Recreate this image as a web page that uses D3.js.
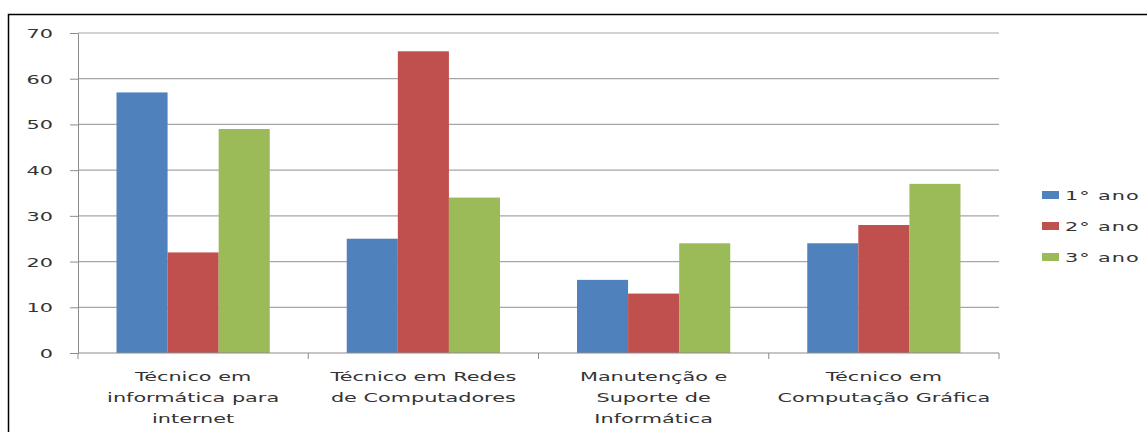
<!DOCTYPE html>
<html><head><meta charset="utf-8">
<script src="https://cdn.jsdelivr.net/npm/d3@7"></script>
<style>body{margin:0;background:#fff;} svg{display:block;}</style>
</head><body>
<svg id="c" width="1147" height="432"></svg>
<script>
const categories = [
  ["Técnico em", "informática para", "internet"],
  ["Técnico em Redes", "de Computadores"],
  ["Manutenção e", "Suporte de", "Informática"],
  ["Técnico em", "Computação Gráfica"]
];
const seriesNames = ["1° ano", "2° ano", "3° ano"];
const ano1 = [57, 25, 16, 24];
const ano2 = [22, 66, 13, 28];
const ano3 = [49, 34, 24, 37];
const yTicks = [0, 10, 20, 30, 40, 50, 60, 70];
const colors = ["#4F81BD", "#C0504D", "#9BBB59"];

(function () {
const series = [ano1, ano2, ano3];
const svg = d3.select("#c");
const SX = 1.6;
const font = "DejaVu Sans, Verdana, sans-serif";
const fs = 13;
const tc = "#333";

svg.append("rect").attr("x", 8.5).attr("y", 14.5).attr("width", 1160).attr("height", 440)
  .attr("fill", "none").attr("stroke", "#000").attr("stroke-width", 1.5);

const pl = 78, pr = 999, pt = 33, pb = 353;
const y = d3.scaleLinear().domain([0, 70]).range([pb, pt]);
const x0 = d3.scaleBand().domain(d3.range(categories.length)).range([pl, pr]).paddingInner(0).paddingOuter(0);
const x1 = d3.scaleBand().domain(d3.range(3)).range([38.5, x0.bandwidth() - 38.5]);

// gridlines
svg.append("g").selectAll("line").data(yTicks.filter(d => d > 0)).join("line")
  .attr("x1", pl).attr("x2", pr).attr("y1", d => y(d)).attr("y2", d => y(d))
  .attr("stroke", "#a6a6a6").attr("stroke-width", 1.2);

// bars
const g = svg.append("g");
categories.forEach((c, i) => {
  series.forEach((s, j) => {
    g.append("rect")
      .attr("x", x0(i) + x1(j)).attr("width", x1.bandwidth())
      .attr("y", y(s[i])).attr("height", y(0) - y(s[i]))
      .attr("fill", colors[j]);
  });
});

// y axis
const yAxis = svg.append("g").attr("transform", `translate(${pl},0)`)
  .call(d3.axisLeft(y).tickValues(yTicks).tickSize(8).tickPadding(0).tickSizeOuter(0));
yAxis.select(".domain").attr("stroke", "#8c8c8c");
yAxis.selectAll(".tick line").attr("stroke", "#8c8c8c");
yAxis.selectAll(".tick text").attr("x", null).attr("dy", "0.35em")
  .attr("text-anchor", "end")
  .attr("transform", `translate(-25,0) scale(${SX},1)`)
  .attr("font-family", font).attr("font-size", fs).attr("fill", tc);

// x axis baseline and ticks
svg.append("line").attr("x1", pl).attr("x2", pr).attr("y1", pb).attr("y2", pb)
  .attr("stroke", "#8c8c8c").attr("stroke-width", 1.2);
svg.append("g").selectAll("line").data(d3.range(categories.length + 1)).join("line")
  .attr("x1", d => pl + d * x0.bandwidth()).attr("x2", d => pl + d * x0.bandwidth())
  .attr("y1", pb).attr("y2", pb + 6).attr("stroke", "#8c8c8c");

// x labels
categories.forEach((lines, i) => {
  const cx = x0(i) + x0.bandwidth() / 2;
  lines.forEach((t, k) => {
    svg.append("text")
      .attr("transform", `translate(${cx},${376 + k * 21}) scale(${SX},1)`)
      .attr("text-anchor", "middle").attr("dy", "0.35em")
      .attr("font-family", font).attr("font-size", fs).attr("fill", tc)
      .text(t);
  });
});

// legend
seriesNames.forEach((n, j) => {
  const ly = 195 + j * 31;
  svg.append("rect").attr("x", 1042).attr("y", ly - 4).attr("width", 17).attr("height", 8).attr("fill", colors[j]);
  svg.append("text")
    .attr("transform", `translate(1065,${ly}) scale(${SX},1)`)
    .attr("dy", "0.35em").attr("letter-spacing", 0.6)
    .attr("font-family", font).attr("font-size", fs).attr("fill", tc)
    .text(n);
});
})();
</script>
</body></html>
